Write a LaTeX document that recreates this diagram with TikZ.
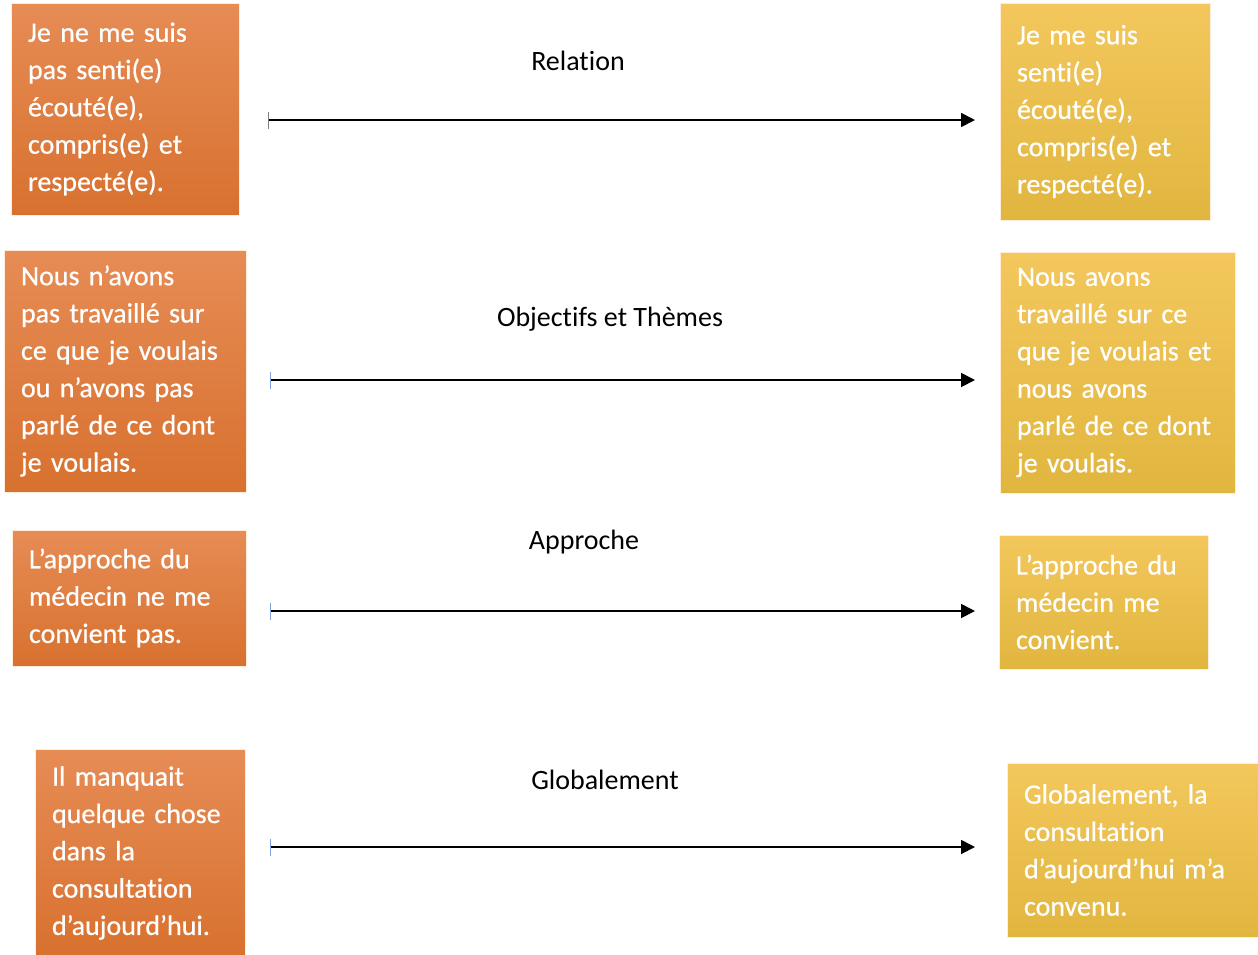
\documentclass[tikz,border=0pt]{standalone}
\usepackage{fontspec}
\setmainfont{Carlito}[RawFeature=-liga]
\newfontfamily\boxfont{Carlito}[RawFeature=-liga,FakeBold=0.6]
\usetikzlibrary{calc,arrows.meta}
\definecolor{orangetop}{HTML}{E68C55}
\definecolor{orangebot}{HTML}{D8712F}
\definecolor{yellowtop}{HTML}{F3C75C}
\definecolor{yellowbot}{HTML}{E1B63F}
\definecolor{tickblue}{HTML}{7F9FE0}

\begin{document}
\begin{tikzpicture}[x=1pt,y=-1pt,
    box/.style={rectangle,draw=white!85!orange,line width=0.6pt,text=white,
        align=left,inner xsep=17pt,inner ysep=0pt,
        font=\boxfont\fontsize{28}{37.3}\selectfont},
    badbox/.style={box,top color=orangetop,bottom color=orangebot},
    goodbox/.style={box,top color=yellowtop,bottom color=yellowbot},
    title/.style={font=\fontsize{28}{34}\selectfont,text=black},
    scale arrow/.style={line width=1.8pt,
        {Bar[width=17pt,line width=1.4pt,color=#1]}-{Triangle[length=14pt,width=14pt]}}]
    \useasboundingbox (0,0) rectangle (1258,954);

    % left column
    \node[badbox,minimum width=228pt,minimum height=212pt,text width=194pt] (bad1) at (125,109)
        {Je ne me suis\\pas senti(e)\\écouté(e),\\compris(e) et\\respecté(e).};
    \node[badbox,minimum width=242pt,minimum height=242pt,text width=208pt] (bad2) at (125,371)
        {Nous n’avons\\pas travaillé sur\\ce que je voulais\\ou n’avons pas\\parlé de ce dont\\je voulais.};
    \node[badbox,minimum width=234pt,minimum height=136pt,text width=200pt] (bad3) at (129,598)
        {L’approche du\\médecin ne me\\convient pas.};
    \node[badbox,minimum width=210pt,minimum height=208pt,text width=176pt] (bad4) at (140,853)
        {Il manquait\\quelque chose\\dans la\\consultation\\d’aujourd’hui.};

    % right column
    \node[goodbox,minimum width=210pt,minimum height=217pt,text width=176pt] (good1) at (1105,111.5)
        {Je me suis\\senti(e)\\écouté(e),\\compris(e) et\\respecté(e).};
    \node[goodbox,minimum width=235pt,minimum height=241pt,text width=201pt] (good2) at (1117.5,372.5)
        {Nous avons\\travaillé sur ce\\que je voulais et\\nous avons\\parlé de ce dont\\je voulais.};
    \node[goodbox,minimum width=209pt,minimum height=134pt,text width=175pt] (good3) at (1103.5,602)
        {L’approche du\\médecin me\\convient.};
    \node[goodbox,minimum width=260pt,minimum height=174pt,text width=226pt] (good4) at (1137,850)
        {Globalement, la\\consultation\\d’aujourd’hui m’a\\convenu.};

    % titles
    \node[title] (t1) at (578,61) {Relation};
    \node[title] (t2) at (610,319) {Objectifs et Thèmes};
    \node[title] (t3) at (584,542) {Approche};
    \node[title] (t4) at (605,780) {Globalement};

    % scales
    \foreach \i/\y/\x/\c in {1/120/268/gray, 2/380/270/tickblue, 3/611/270/tickblue, 4/847/270/tickblue}
    {
        \coordinate (s\i) at (\x,\y);
        \coordinate (e\i) at (975,\y);
        \draw[scale arrow=\c] (s\i) -- (e\i);
    }
\end{tikzpicture}
\end{document}
